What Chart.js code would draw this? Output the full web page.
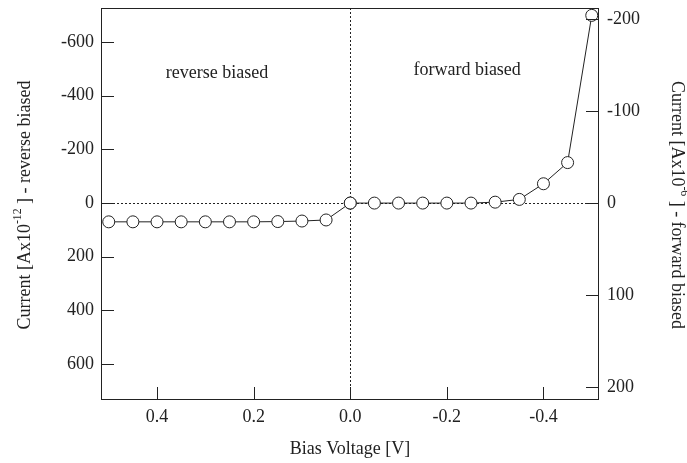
<!DOCTYPE html>
<html>
<head>
<meta charset="utf-8">
<script src="https://cdn.jsdelivr.net/npm/chart.js@4.4.1/dist/chart.umd.min.js"></script>
<style>
  html, body { margin: 0; padding: 0; background: #fff; }
</style>
</head>
<body>
<canvas id="myChart" width="687" height="463"></canvas>
<script>
// ==== données ====
const tensionInverse = [0.5, 0.45, 0.4, 0.35, 0.3, 0.25, 0.2, 0.15, 0.1, 0.05, 0];
const courantInverse = [70, 70, 70, 70, 70, 70, 70, 69, 67, 63, 0];       // A x 1e-12
const tensionDirecte = [0, -0.05, -0.1, -0.15, -0.2, -0.25, -0.3, -0.35, -0.4, -0.45, -0.5];
const courantDirect = [0, 0, 0, 0, 0, 0, -1, -4, -21, -44, -204];         // A x 1e-6

const ticksX = [0.4, 0.2, 0, -0.2, -0.4];
const labelsX = ['0.4', '0.2', '0.0', '-0.2', '-0.4'];
const ticksGauche = [-600, -400, -200, 0, 200, 400, 600];
const ticksDroite = [-200, -100, 0, 100, 200];

const police = 'Liberation Serif';
const taillePolice = 18;
const encre = '#222';

const points = (xs, ys) => xs.map((v, i) => ({x: v, y: ys[i]}));

const styleSerie = {
  showLine: true,
  borderColor: encre,
  borderWidth: 1,
  pointRadius: 6,
  pointBackgroundColor: '#fff',
  pointBorderColor: encre,
  pointBorderWidth: 1
};

const data = {
  datasets: [
    {label: 'reverse', data: points(tensionInverse, courantInverse), yAxisID: 'y', ...styleSerie},
    {label: 'forward', data: points(tensionDirecte, courantDirect), yAxisID: 'y2', ...styleSerie}
  ]
};

// lignes pointillées à zéro (derrière les courbes)
const LignesZero = {
  id: 'LignesZero',
  beforeDatasetsDraw(chart) {
    const {ctx, chartArea: {top, bottom, left, right}, scales: {x, y}} = chart;
    ctx.save();
    ctx.strokeStyle = encre;
    ctx.lineWidth = 1;
    ctx.setLineDash([2, 2]);
    ctx.beginPath();
    const x0 = Math.round(x.getPixelForValue(0)) + 0.5;
    const y0 = Math.round(y.getPixelForValue(0)) + 0.5;
    ctx.moveTo(x0, top); ctx.lineTo(x0, bottom);
    ctx.moveTo(left, y0); ctx.lineTo(right, y0);
    ctx.stroke();
    ctx.restore();
  }
};

// texte centré avec exposant
function texteRiche(ctx, morceaux, taille) {
  const largeurs = morceaux.map(m => {
    ctx.font = (m.sup ? taille * 0.65 : taille) + 'px "' + police + '"';
    return ctx.measureText(m.t).width;
  });
  const total = largeurs.reduce((a, b) => a + b, 0);
  let pos = -total / 2;
  morceaux.forEach((m, i) => {
    ctx.font = (m.sup ? taille * 0.65 : taille) + 'px "' + police + '"';
    ctx.fillText(m.t, pos, m.sup ? -taille * 0.4 : 0);
    pos += largeurs[i];
  });
}

// cadre, graduations intérieures, titres et annotations
const Cadre = {
  id: 'Cadre',
  afterDraw(chart) {
    const {ctx, chartArea: {top, bottom, left, right}, scales: {x, y, y2}} = chart;
    ctx.save();
    ctx.strokeStyle = encre;
    ctx.lineWidth = 1;
    ctx.strokeRect(left + 0.5, top + 0.5, right - left - 1, bottom - top - 1);
    const lg = 13;
    ctx.beginPath();
    ticksX.forEach(v => {
      const p = Math.round(x.getPixelForValue(v)) + 0.5;
      ctx.moveTo(p, bottom); ctx.lineTo(p, bottom - lg);
    });
    ticksGauche.forEach(v => {
      const p = Math.round(y.getPixelForValue(v)) + 0.5;
      ctx.moveTo(left, p); ctx.lineTo(left + lg, p);
    });
    ticksDroite.forEach(v => {
      const p = Math.round(y2.getPixelForValue(v)) + 0.5;
      ctx.moveTo(right, p); ctx.lineTo(right - lg, p);
    });
    ctx.stroke();

    ctx.fillStyle = encre;
    ctx.textBaseline = 'middle';
    ctx.textAlign = 'left';
    // titre axe x
    ctx.save();
    ctx.translate(350, 449);
    texteRiche(ctx, [{t: 'Bias Voltage [V]'}], taillePolice);
    ctx.restore();
    // titre axe gauche
    ctx.save();
    ctx.translate(25, 205);
    ctx.rotate(-Math.PI / 2);
    texteRiche(ctx, [{t: 'Current [Ax10'}, {t: '-12', sup: true}, {t: ' ] - reverse biased'}], taillePolice);
    ctx.restore();
    // titre axe droit
    ctx.save();
    ctx.translate(677, 205);
    ctx.rotate(Math.PI / 2);
    texteRiche(ctx, [{t: 'Current [Ax10'}, {t: '-6', sup: true}, {t: ' ] - forward biased'}], taillePolice);
    ctx.restore();
    // annotations
    ctx.save();
    ctx.translate(x.getPixelForValue(0.276), y.getPixelForValue(-485));
    texteRiche(ctx, [{t: 'reverse biased'}], taillePolice);
    ctx.restore();
    ctx.save();
    ctx.translate(x.getPixelForValue(-0.242), y.getPixelForValue(-496));
    texteRiche(ctx, [{t: 'forward biased'}], taillePolice);
    ctx.restore();
    ctx.restore();
  }
};

const fixeTicks = valeurs => scale => { scale.ticks = valeurs.map(v => ({value: v})); };
const policeTicks = {family: police, size: taillePolice};

const config = {
  type: 'scatter',
  data,
  options: {
    responsive: false,
    animation: false,
    layout: {padding: {top: 8, left: 0, right: 0, bottom: 0}},
    scales: {
      x: {
        type: 'linear',
        reverse: true,
        min: -0.515,
        max: 0.516,
        grid: {display: false, drawTicks: false},
        border: {display: false},
        afterBuildTicks: fixeTicks(ticksX),
        afterFit: s => { s.height = 63; s.paddingLeft = 0; s.paddingRight = 0; },
        ticks: {
          color: encre, font: policeTicks, padding: 6,
          callback: v => labelsX[ticksX.indexOf(v)]
        }
      },
      y: {
        type: 'linear',
        position: 'left',
        reverse: true,
        min: -727,
        max: 734,
        grid: {display: false, drawTicks: false},
        border: {display: false},
        afterBuildTicks: fixeTicks(ticksGauche),
        afterFit: s => { s.width = 101; s.paddingTop = 0; s.paddingBottom = 0; },
        ticks: {color: encre, font: policeTicks, padding: 7, callback: v => String(v)}
      },
      y2: {
        type: 'linear',
        position: 'right',
        reverse: true,
        min: -212,
        max: 214,
        grid: {display: false, drawTicks: false},
        border: {display: false},
        afterBuildTicks: fixeTicks(ticksDroite),
        afterFit: s => { s.width = 88; s.paddingTop = 0; s.paddingBottom = 0; },
        ticks: {color: encre, font: policeTicks, padding: 8, callback: v => String(v)}
      }
    },
    plugins: {
      legend: {display: false},
      tooltip: {enabled: false}
    }
  },
  plugins: [LignesZero, Cadre]
};

const myChart = new Chart(document.getElementById('myChart'), config);
</script>
</body>
</html>
